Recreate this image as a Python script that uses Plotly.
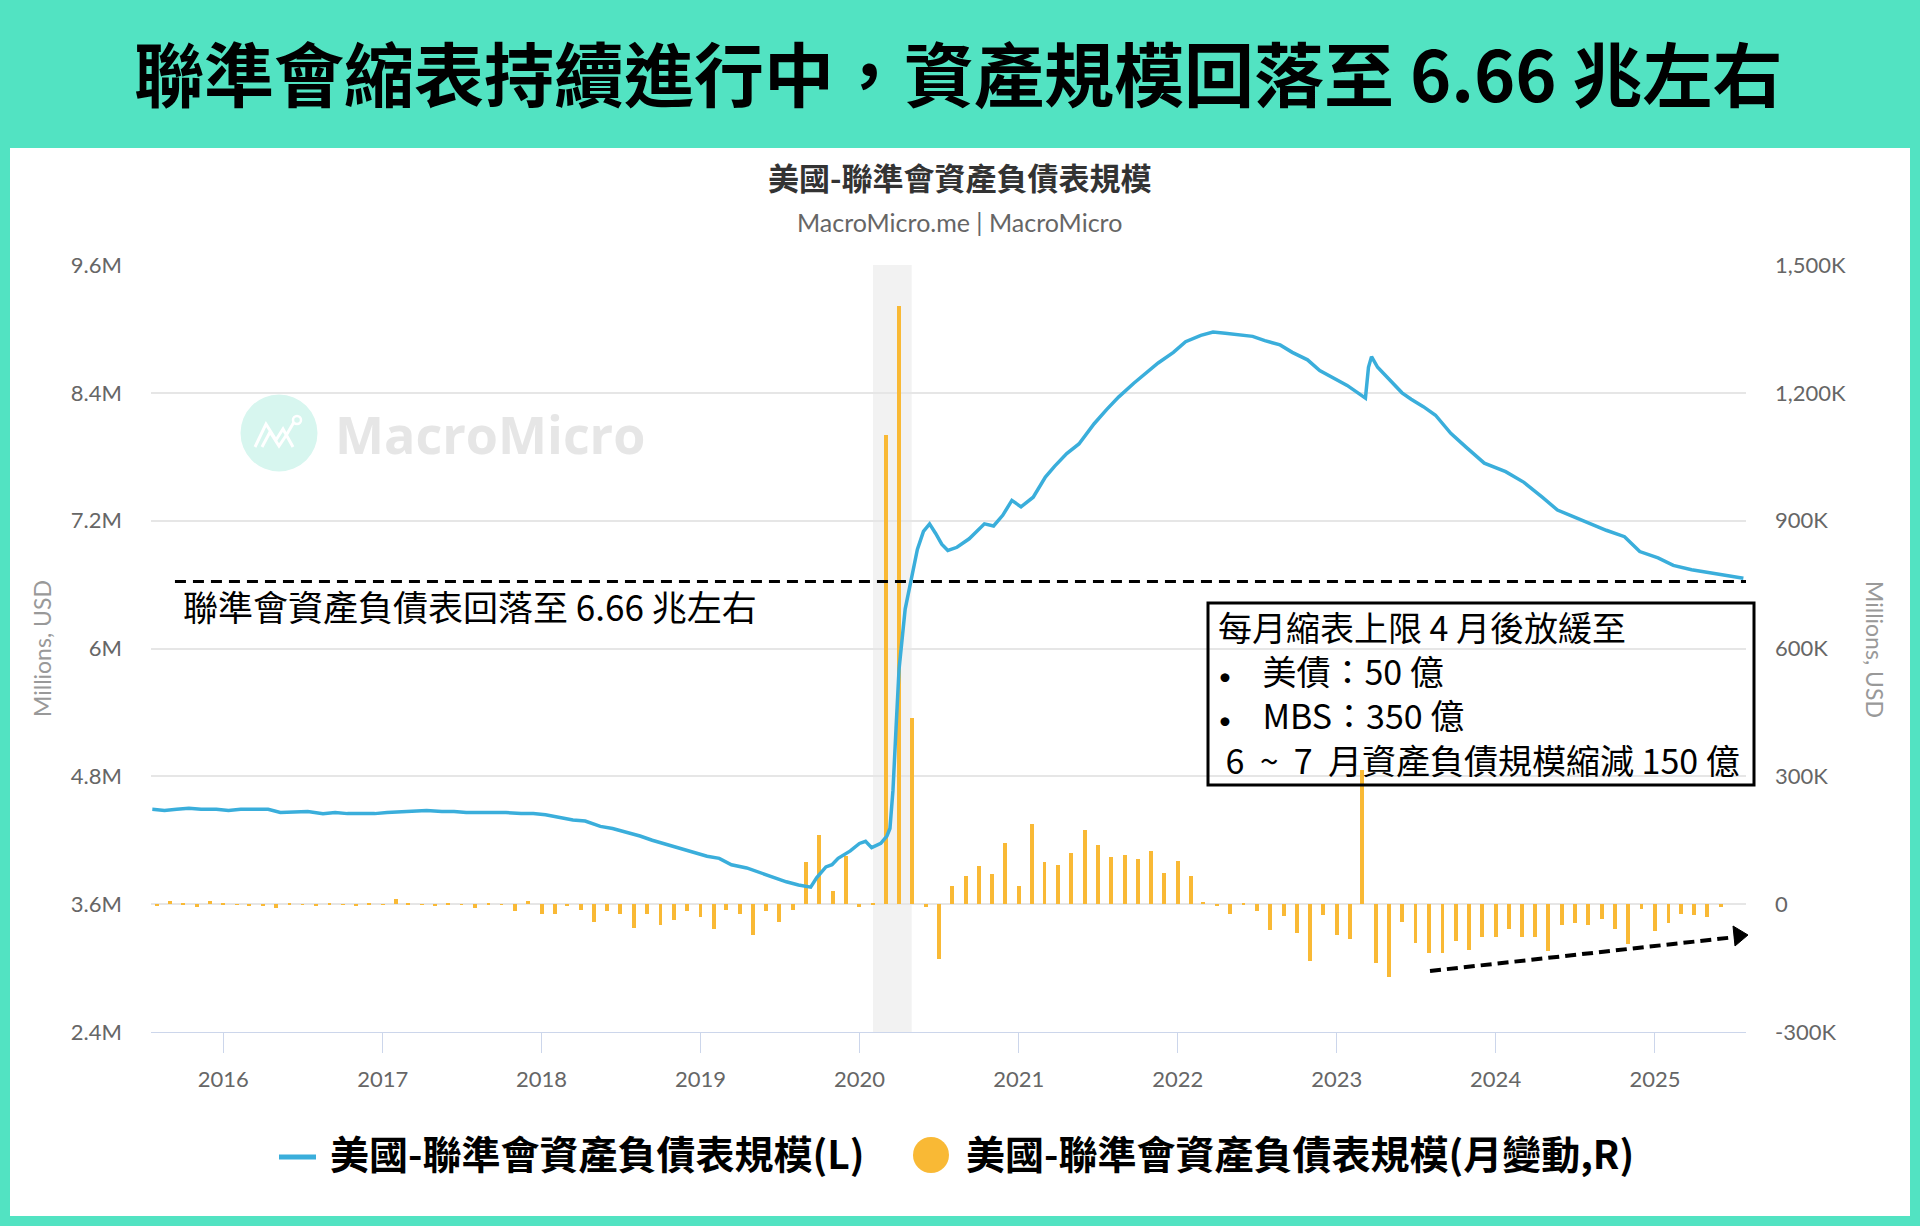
import pandas as pd
import plotly.graph_objects as go

# ---------------- data ----------------
LINE_DATES = [
    "2015-07-22", "2015-08-19", "2015-09-16", "2015-10-14", "2015-11-11", "2015-12-16",
    "2016-01-13", "2016-02-10", "2016-03-16", "2016-04-13", "2016-05-11", "2016-06-15",
    "2016-07-13", "2016-08-17", "2016-09-14", "2016-10-12", "2016-11-16", "2016-12-14",
    "2017-01-11", "2017-02-15", "2017-03-15", "2017-04-12", "2017-05-17", "2017-06-14",
    "2017-07-12", "2017-08-16", "2017-09-13", "2017-10-11", "2017-11-15", "2017-12-13",
    "2018-01-10", "2018-02-14", "2018-03-14", "2018-04-11", "2018-05-16", "2018-06-13",
    "2018-07-11", "2018-08-15", "2018-09-12", "2018-10-17", "2018-11-14", "2018-12-12",
    "2019-01-16", "2019-02-13", "2019-03-13", "2019-04-17", "2019-05-15", "2019-06-12",
    "2019-07-17", "2019-08-14", "2019-09-11", "2019-09-25", "2019-10-16", "2019-10-30",
    "2019-11-13", "2019-12-11", "2020-01-01", "2020-01-15", "2020-01-29", "2020-02-19",
    "2020-03-04", "2020-03-11", "2020-03-18", "2020-03-25", "2020-04-01", "2020-04-15",
    "2020-04-29", "2020-05-13", "2020-05-27", "2020-06-10", "2020-06-24", "2020-07-08",
    "2020-07-22", "2020-08-12", "2020-09-09", "2020-10-14", "2020-11-04", "2020-11-25",
    "2020-12-16", "2021-01-06", "2021-02-03", "2021-03-03", "2021-03-24", "2021-04-21",
    "2021-05-19", "2021-06-23", "2021-07-21", "2021-08-18", "2021-09-22", "2021-10-20",
    "2021-11-17", "2021-12-22", "2022-01-19", "2022-02-23", "2022-03-23", "2022-04-20",
    "2022-05-25", "2022-06-22", "2022-07-20", "2022-08-24", "2022-09-21", "2022-10-26",
    "2022-11-23", "2022-12-21", "2023-01-25", "2023-02-22", "2023-03-08", "2023-03-15",
    "2023-03-22", "2023-04-05", "2023-05-03", "2023-05-31", "2023-06-21", "2023-07-19",
    "2023-08-16", "2023-09-20", "2023-10-25", "2023-12-06", "2024-01-24", "2024-03-06",
    "2024-04-17", "2024-05-22", "2024-06-26", "2024-08-07", "2024-09-11", "2024-10-23",
    "2024-11-27", "2025-01-08", "2025-02-12", "2025-03-26", "2025-05-14", "2025-06-25",
    "2025-07-23",
]
# Fed balance sheet size, "M" units of the left axis
LINE_VALUES_M = [
    4.49, 4.48, 4.49, 4.50, 4.49, 4.49,
    4.48, 4.49, 4.49, 4.49, 4.46, 4.47,
    4.47, 4.45, 4.46, 4.45, 4.45, 4.45,
    4.46, 4.47, 4.47, 4.48, 4.47, 4.47,
    4.46, 4.46, 4.46, 4.46, 4.45, 4.45,
    4.44, 4.41, 4.39, 4.38, 4.33, 4.31,
    4.28, 4.24, 4.20, 4.16, 4.13, 4.09,
    4.05, 4.03, 3.97, 3.94, 3.90, 3.86,
    3.81, 3.78, 3.76, 3.85, 3.95, 3.97,
    4.03, 4.10, 4.17, 4.19, 4.13, 4.17,
    4.24, 4.31, 4.67, 5.25, 5.81, 6.37,
    6.66, 6.93, 7.10, 7.17, 7.08, 6.98,
    6.92, 6.95, 7.03, 7.17, 7.15, 7.25,
    7.39, 7.33, 7.42, 7.61, 7.71, 7.83,
    7.92, 8.11, 8.24, 8.36, 8.49, 8.58,
    8.68, 8.78, 8.88, 8.94, 8.97, 8.96,
    8.94, 8.93, 8.89, 8.85, 8.78, 8.71,
    8.61, 8.55, 8.47, 8.39, 8.35, 8.64,
    8.74, 8.64, 8.52, 8.40, 8.34, 8.27,
    8.19, 8.02, 7.89, 7.74, 7.66, 7.56,
    7.42, 7.30, 7.24, 7.17, 7.11, 7.05,
    6.91, 6.85, 6.78, 6.74, 6.71, 6.68,
    6.66,
]

BAR_START = "2015-08-01"
# monthly change, "K" units of the right axis
BAR_VALUES_K = [
    -3, 8, 1, -7, 8,                                              # 2015 Aug-Dec
    1, -1, -2, -2, -8, 1, -1, -3, 1, -1, -3, 1,                   # 2016
    -1, 13, 1, -1, -2, 1, -1, -8, 1, -1, -17, 8,                  # 2017
    -22, -22, -2, -13, -41, -17, -22, -55, -23, -50, -36, -17,    # 2018
    -31, -59, -13, -22, -72, -17, -41, -13, 98, 163, 32, 112,     # 2019
    -7, 2, 1100, 1404, 438, -7, -129, 42, 65, 89, 70, 144,        # 2020
    42, 187, 98, 93, 120, 173, 140, 111, 116, 107, 125, 74,       # 2021
    102, 65, 5, -2, -22, 1, -17, -60, -27, -68, -133, -26,        # 2022
    -73, -82, 316, -139, -172, -41, -92, -115, -114, -86, -107, -78,  # 2023
    -78, -59, -78, -78, -111, -49, -44, -49, -35, -59, -93, -12,  # 2024
    -64, -45, -22, -26, -31, -7,                                  # 2025 Jan-Jun
]
BAR_DATES = pd.date_range(BAR_START, periods=len(BAR_VALUES_K), freq="MS")

YEAR_TICK_DATES = ["2016-01-01", "2017-01-01", "2018-01-01", "2019-01-01", "2020-01-01",
                   "2021-01-01", "2022-01-01", "2023-01-01", "2024-01-01", "2025-01-01"]
YEAR_TICK_TEXT = ["2016", "2017", "2018", "2019", "2020", "2021", "2022", "2023", "2024", "2025"]
LEFT_TICKS = [2.4, 3.6, 4.8, 6.0, 7.2, 8.4, 9.6]
LEFT_TICK_TEXT = ["2.4M", "3.6M", "4.8M", "6M", "7.2M", "8.4M", "9.6M"]
RIGHT_TICKS = [-300, 0, 300, 600, 900, 1200, 1500]
RIGHT_TICK_TEXT = ["-300K", "0", "300K", "600K", "900K", "1,200K", "1,500K"]

LINE_NAME = "美國-聯準會資產負債表規模(L)"
BAR_NAME = "美國-聯準會資產負債表規模(月變動,R)"
MAIN_TITLE = "聯準會縮表持續進行中，資產規模回落至 6.66 兆左右"
CHART_TITLE = "美國-聯準會資產負債表規模"
SUBTITLE = "MacroMicro.me | MacroMicro"
LEVEL_NOTE = "聯準會資產負債表回落至 6.66 兆左右"
LEVEL_VALUE = 6.63
NB = "\u00a0"
BOX_LINES = ["每月縮表上限 4 月後放緩至", "美債：50 億", "MBS：350 億",
             "6" + NB * 2 + "~" + NB * 2 + "7" + NB * 2 + "月資產負債規模縮減" + NB + "150" + NB + "億"]

# ---------------- style ----------------
TEAL = "#52E3C2"
LINE_COLOR = "#3AAEDB"
BAR_COLOR = "#F9B935"
CJK = "Noto Sans CJK TC"
LAT = "Lato"

W, H = 1920, 1226
L, R, T, B = 151, 1746, 265, 1032


def PX(x):
    return (x - L) / (R - L)


def PY(y):
    return (B - y) / (B - T)


fig = go.Figure()

fig.add_trace(go.Bar(
    x=BAR_DATES, y=BAR_VALUES_K, name=BAR_NAME, yaxis="y",
    marker=dict(color=BAR_COLOR, line=dict(width=0)),
    width=9 * 24 * 3600 * 1000, showlegend=False,
))
fig.add_trace(go.Scatter(
    x=LINE_DATES, y=LINE_VALUES_M, name=LINE_NAME, yaxis="y2", mode="lines",
    line=dict(color=LINE_COLOR, width=3.5), showlegend=False,
))

tickfont = dict(family=LAT, size=22, color="#666666")

fig.update_layout(
    width=W, height=H, autosize=False,
    margin=dict(l=L, r=W - R, t=T, b=H - B, pad=0),
    paper_bgcolor=TEAL, plot_bgcolor="rgba(0,0,0,0)",
    bargap=0,
    xaxis=dict(
        type="date", range=["2015-07-19", "2025-07-29"],
        tickmode="array", tickvals=YEAR_TICK_DATES, ticktext=YEAR_TICK_TEXT,
        ticks="outside", ticklen=20, tickcolor="#ccd6eb", tickwidth=1,
        showline=True, linecolor="#ccd6eb", linewidth=1,
        showgrid=False, zeroline=False, tickfont=tickfont, ticklabelstandoff=8,
    ),
    yaxis=dict(
        side="right", range=[-300, 1500],
        tickmode="array", tickvals=RIGHT_TICKS, ticktext=RIGHT_TICK_TEXT,
        showgrid=True, gridcolor="#e6e6e6", gridwidth=1.5, zeroline=False,
        tickfont=tickfont, ticks="", ticklabelstandoff=28,
    ),
    yaxis2=dict(
        side="left", overlaying="y", range=[2.4, 9.6],
        tickmode="array", tickvals=LEFT_TICKS, ticktext=LEFT_TICK_TEXT,
        showgrid=False, zeroline=False,
        tickfont=tickfont, ticks="", ticklabelstandoff=28,
    ),
    showlegend=False,
)

shapes = []
# white panel
shapes.append(dict(type="rect", xref="paper", yref="paper", x0=PX(10), x1=PX(1910), y0=PY(1216), y1=PY(148),
                   fillcolor="white", line=dict(width=0), layer="below"))
# recession band
shapes.append(dict(type="rect", xref="x", yref="paper", x0="2020-02-01", x1="2020-04-30", y0=0, y1=1,
                   fillcolor="#f2f2f2", line=dict(width=0), layer="below"))
# watermark circle + logo
shapes.append(dict(type="circle", xref="paper", yref="paper", x0=PX(240.5), x1=PX(317.5), y0=PY(471.5), y1=PY(394.5),
                   fillcolor="#d7f6ef", line=dict(width=0), layer="below"))
logo = [(255, 447), (266, 424), (276, 440), (283, 429), (293, 447)]
logo2 = [(262, 447), (270, 432), (279, 446), (287, 434), (294, 422)]
for pts in (logo, logo2):
    path = "M " + " L ".join(f"{PX(a):.5f},{PY(b):.5f}" for a, b in pts)
    shapes.append(dict(type="path", xref="paper", yref="paper", path=path,
                       line=dict(color="white", width=3), layer="below"))
shapes.append(dict(type="circle", xref="paper", yref="paper", x0=PX(293), x1=PX(301), y0=PY(424), y1=PY(416),
                   fillcolor="rgba(0,0,0,0)", line=dict(color="white", width=2.5), layer="below"))
# level dashed line
shapes.append(dict(type="line", xref="x", yref="y2", x0="2015-09-12", x1="2025-07-29",
                   y0=LEVEL_VALUE, y1=LEVEL_VALUE, line=dict(color="black", width=3, dash="11px,7px")))
# note box
shapes.append(dict(type="rect", xref="paper", yref="paper", x0=PX(1208), x1=PX(1754), y0=PY(785), y1=PY(603),
                   fillcolor="rgba(0,0,0,0)", line=dict(color="black", width=3)))
# dashed arrow
shapes.append(dict(type="line", xref="paper", yref="paper", x0=PX(1430), y0=PY(971), x1=PX(1736), y1=PY(937),
                   line=dict(color="black", width=4, dash="11px,6px")))
head = [(1733, 926), (1748, 935), (1735, 946)]
shapes.append(dict(type="path", xref="paper", yref="paper",
                   path="M " + " L ".join(f"{PX(a):.5f},{PY(b):.5f}" for a, b in head) + " Z",
                   fillcolor="black", line=dict(color="black", width=1)))
# legend symbols
shapes.append(dict(type="line", xref="paper", yref="paper", x0=PX(279), x1=PX(316), y0=PY(1157), y1=PY(1157),
                   line=dict(color=LINE_COLOR, width=5)))
shapes.append(dict(type="circle", xref="paper", yref="paper", x0=PX(913), x1=PX(949), y0=PY(1173), y1=PY(1137),
                   fillcolor=BAR_COLOR, line=dict(width=0)))
fig.update_layout(shapes=shapes)


def ann(text, x, y, size, color="black", xanchor="center", family=CJK, weight="normal", angle=0, align="center"):
    return dict(text=text, x=PX(x), y=PY(y), xref="paper", yref="paper", showarrow=False,
                xanchor=xanchor, yanchor="middle", textangle=angle, align=align,
                font=dict(family=family, size=size, color=color, weight=weight))


BULLET = "<span style='font-family:Lato;font-size:24px'>•</span>"
box_text = "<br>".join([
    BOX_LINES[0],
    BULLET + NB * 4 + BOX_LINES[1],
    BULLET + NB * 4 + BOX_LINES[2],
    NB + BOX_LINES[3],
])

annotations = [
    ann(MAIN_TITLE, 958, 72, 70, weight="bold"),
    ann(CHART_TITLE, 959, 176, 31, color="#333333", weight="bold"),
    ann(SUBTITLE, 959, 222, 25, color="#666666", family=LAT),
    ann("Millions, USD", 42, 649, 23, color="#999999", family=LAT, angle=-90),
    ann("Millions, USD", 1875, 649, 23, color="#999999", family=LAT, angle=90),
    ann("MacroMicro", 333, 433, 52, color="#e6e6e6", xanchor="left", family="Open Sans", weight="bold"),
    ann(LEVEL_NOTE, 181, 605, 35, xanchor="left"),
    ann(box_text, 1216, 693, 34, xanchor="left", align="left"),
    ann(LINE_NAME, 328, 1152, 39, xanchor="left", weight="bold"),
    ann(BAR_NAME, 964, 1152, 39, xanchor="left", weight="bold"),
]
fig.update_layout(annotations=annotations)

fig.write_html("out.html", config={"displayModeBar": False},
               post_script="document.body.style.margin='0px';document.body.style.padding='0px';")
